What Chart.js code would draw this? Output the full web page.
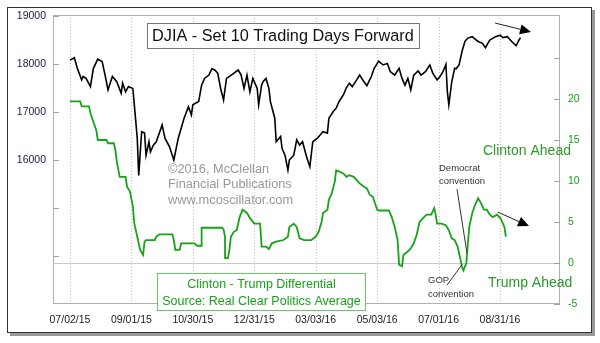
<!DOCTYPE html>
<html>
<head>
<meta charset="utf-8">
<style>
  html, body { margin: 0; padding: 0; background: #fff; }
  #wrap { width: 600px; height: 343px; }
</style>
<script src="https://cdn.jsdelivr.net/npm/chart.js@4.4.0/dist/chart.umd.min.js"></script>
</head>
<body>
<div id="wrap"><canvas id="djiaChart" width="600" height="343"></canvas></div>
<script>
// trading day index (0 = 07/02/15) and DJIA close, already shifted 10 days forward
const djiaDay = [0, 3, 5, 8, 9, 11, 14, 16, 19, 22, 24, 26, 29, 32, 35, 36, 38, 40, 43, 44,
    46, 47, 49, 51, 52, 54, 55, 57, 59, 63, 65, 68, 71, 74, 78, 81, 83, 84, 88, 90,
    92, 95, 97, 99, 101, 103, 105, 107, 111, 115, 117, 119, 121, 123, 125, 128, 129, 131, 132, 134,
    136, 137, 140, 141, 144, 145, 147, 149, 150, 153, 155, 157, 159, 162, 164, 166, 169, 171, 173, 176,
    177, 180, 182, 184, 187, 189, 191, 193, 196, 198, 201, 203, 206, 208, 211, 214, 217, 219, 222, 225,
    227, 229, 231, 233, 235, 238, 240, 243, 246, 248, 251, 253, 255, 257, 258, 259, 261, 263, 264, 266,
    268, 270, 272, 275, 277, 279, 282, 284, 287, 291, 294, 296, 299, 302, 305, 307, 308]
const djiaClose = [18080, 18130, 17910, 17670, 17740, 17700, 17530, 17910, 18100, 18050, 17770, 17460, 17740, 17630, 17390, 17600, 17420, 17530, 17490, 17150,
    16450, 15680, 16590, 16560, 16100, 16380, 16170, 16310, 16380, 16730, 16450, 16280, 16000, 16450, 16870, 17110, 16940, 17150, 17220, 17560,
    17700, 17770, 17900, 17875, 17810, 17490, 17250, 17700, 17785, 17875, 17770, 17490, 17770, 17420, 17700, 17490, 17150, 17560, 17630, 17700,
    17490, 17220, 16870, 16380, 16490, 16240, 16100, 15790, 16000, 16100, 16420, 16310, 16380, 16040, 15860, 16380, 16450, 16520, 16590, 16560,
    16870, 17010, 17080, 17220, 17360, 17510, 17600, 17530, 17670, 17770, 17630, 17550, 17740, 17910, 18060, 17980, 18010, 17840, 17770, 17910,
    17700, 17560, 17700, 17460, 17770, 17855, 17770, 17840, 17980, 17810, 17670, 17740, 17840, 17990, 17420, 17150, 17630, 17910, 17900, 17980,
    18260, 18470, 18540, 18570, 18520, 18470, 18430, 18340, 18500, 18570, 18600, 18550, 18570, 18470, 18380, 18500, 18550]

// Clinton minus Trump, RCP average (points)
const spreadDay = [0, 7, 8, 13, 14, 16, 18, 19, 25, 26, 30, 31, 32, 34, 38, 39, 41, 43, 44, 46,
    48, 50, 51, 52, 58, 59, 61, 70, 71, 72, 75, 76, 85, 87, 90, 90, 104, 105, 106, 106,
    108, 109, 110, 112, 114, 116, 118, 121, 123, 126, 130, 131, 134, 136, 138, 141, 146, 149, 150, 153,
    155, 157, 160, 165, 168, 170, 172, 173, 176, 177, 179, 181, 182, 185, 187, 189, 191, 194, 196, 198,
    201, 203, 205, 207, 210, 211, 218, 220, 222, 224, 225, 227, 228, 231, 233, 235, 237, 239, 242, 244,
    247, 249, 250, 251, 254, 257, 259, 261, 263, 265, 267, 268, 269, 271, 272, 273, 275, 277, 279, 281,
    283, 285, 287, 289, 292, 294, 295, 297, 298]
const spreadValue = [19.7, 19.7, 19.1, 19.1, 18.3, 17.2, 16.2, 15.0, 15.0, 14.6, 14.6, 13.8, 12.4, 10.5, 10.5, 9.3, 8.7, 6.9, 4.8, 3.2,
    1.6, 1.0, 2.6, 2.8, 2.8, 3.2, 3.5, 3.5, 2.8, 1.6, 1.6, 2.4, 2.4, 2.1, 2.1, 4.3, 4.3, 4.1, 3.2, 0.6,
    0.6, 1.6, 3.2, 3.8, 4.0, 5.6, 6.5, 6.1, 5.5, 4.8, 4.8, 2.0, 2.0, 1.7, 2.4, 2.6, 2.8, 3.2, 4.4, 4.8,
    4.4, 3.0, 2.8, 2.8, 3.2, 3.8, 5.0, 6.1, 6.5, 7.7, 8.5, 9.9, 11.3, 11.1, 10.9, 10.5, 10.7, 10.5, 10.1, 9.7,
    9.3, 9.1, 8.3, 8.1, 6.5, 6.4, 6.4, 5.6, 4.4, 2.8, -0.2, -0.4, 1.0, 1.4, 1.8, 2.4, 3.4, 5.0, 5.6, 5.9,
    5.9, 6.7, 5.9, 4.8, 4.8, 4.6, 4.0, 3.0, 2.8, 2.0, 0.4, -0.5, -0.9, 0.0, 2.4, 4.4, 6.1, 7.1, 7.9, 7.3,
    6.5, 6.5, 5.9, 5.6, 5.9, 5.5, 5.2, 4.4, 3.2]

const tickDay = [0, 42, 84, 126, 168, 210, 252, 294]
const tickLabel = ['07/02/15', '09/01/15', '10/30/15', '12/31/15', '03/03/16', '05/03/16', '07/01/16', '08/31/16']
const djiaTicks = [14000, 15000, 16000, 17000, 18000, 19000]
const spreadTicks = [-5, 0, 5, 10, 15, 20, 25]

const FONT = '"Liberation Sans", Arial, sans-serif'
const GREEN = '#17a317'

const decor = {
    id: 'decor',
    beforeDraw(chart) {
        const ctx = chart.ctx
        ctx.save()
        ctx.fillStyle = '#fff'
        ctx.fillRect(0, 0, chart.width, chart.height)
        // drop shadow + outer frame
        ctx.fillStyle = '#9a9a9a'
        ctx.fillRect(10, 333, 585, 3)
        ctx.fillRect(592, 10, 3, 326)
        ctx.strokeStyle = '#333'
        ctx.lineWidth = 1
        ctx.strokeRect(7.5, 7.5, 584, 325)
        ctx.restore()
    },
    beforeDatasetsDraw(chart) {
        const { ctx, chartArea: a, scales } = chart
        ctx.save()
        ctx.lineWidth = 1
        // dotted verticals at the date ticks
        ctx.strokeStyle = '#c4c4c4'
        ctx.setLineDash([1, 2])
        tickDay.forEach(d => {
            const px = Math.round(scales.x.getPixelForValue(d)) + 0.5
            ctx.beginPath()
            ctx.moveTo(px, a.top)
            ctx.lineTo(px, a.bottom)
            ctx.stroke()
        })
        ctx.setLineDash([])
        // zero line of the spread
        const zy = Math.round(scales.y1.getPixelForValue(0)) + 0.5
        ctx.strokeStyle = '#c8c8c8'
        ctx.beginPath()
        ctx.moveTo(a.left, zy)
        ctx.lineTo(a.right, zy)
        ctx.stroke()
        // plot border
        ctx.strokeStyle = '#b0b0b0'
        ctx.strokeRect(a.left + 0.5, a.top + 0.5, a.width - 1, a.height - 1)
        // inward tick marks
        ctx.strokeStyle = '#a0a0a0'
        djiaTicks.forEach(v => {
            const py = Math.round(scales.y.getPixelForValue(v)) + 0.5
            ctx.beginPath()
            ctx.moveTo(a.left, py)
            ctx.lineTo(a.left + 6, py)
            ctx.stroke()
        })
        spreadTicks.forEach(v => {
            const py = Math.round(scales.y1.getPixelForValue(v)) + 0.5
            ctx.beginPath()
            ctx.moveTo(a.right - 6, py)
            ctx.lineTo(a.right, py)
            ctx.stroke()
        })
        ctx.restore()
    },
    afterDatasetsDraw(chart) {
        const { ctx, scales } = chart
        const X = v => scales.x.getPixelForValue(v)
        const Y = v => scales.y.getPixelForValue(v)
        const Y1 = v => scales.y1.getPixelForValue(v)
        ctx.save()

        // title box
        ctx.fillStyle = '#fff'
        ctx.fillRect(147, 23, 272, 25)
        ctx.strokeStyle = '#777'
        ctx.lineWidth = 1
        ctx.strokeRect(147.5, 23.5, 272, 25)
        ctx.fillStyle = '#111'
        ctx.font = '16.3px ' + FONT
        ctx.textBaseline = 'middle'
        ctx.textAlign = 'left'
        ctx.fillText('DJIA - Set 10 Trading Days Forward', 152, 36.5)

        // copyright
        ctx.fillStyle = '#999'
        ctx.font = '12.8px ' + FONT
        ctx.fillText('©2016, McClellan', 168, 169)
        ctx.fillText('Financial Publications', 168, 184.5)
        ctx.fillText('www.mcoscillator.com', 168, 200)

        // legend box
        ctx.fillStyle = '#fff'
        ctx.fillRect(157, 273, 208, 37)
        ctx.strokeStyle = '#66c866'
        ctx.strokeRect(157.5, 273.5, 208, 37)
        ctx.fillStyle = GREEN
        ctx.font = '12.5px ' + FONT
        ctx.textAlign = 'center'
        ctx.fillText('Clinton - Trump Differential', 261.5, 285)
        ctx.fillText('Source: Real Clear Politics Average', 261.5, 302)

        // ahead labels
        ctx.textAlign = 'left'
        ctx.font = '14px ' + FONT
        ctx.fillStyle = '#2a9a2a'
        ctx.fillText('Clinton Ahead', 483, 151)
        ctx.fillText('Trump Ahead', 488, 283)

        // convention notes
        ctx.fillStyle = '#333'
        ctx.font = '9.5px ' + FONT
        ctx.fillText('Democrat', 439, 168)
        ctx.fillText('convention', 439, 181)
        ctx.fillText('GOP', 428, 280)
        ctx.fillText('convention', 428, 294)

        ctx.strokeStyle = '#333'
        ctx.lineWidth = 1
        ctx.beginPath()
        ctx.moveTo(X(264.6), Y1(9.0))
        ctx.lineTo(X(271.4), Y1(1.2))
        ctx.moveTo(X(257.8), Y1(-2.7))
        ctx.lineTo(X(268), Y1(-0.2))
        ctx.stroke()

        // trend arrows
        const arrow = (x0, y0, x1, y1) => {
            const ang = Math.atan2(y1 - y0, x1 - x0)
            const len = 11, half = 5
            const bx = x1 - len * Math.cos(ang), by = y1 - len * Math.sin(ang)
            ctx.strokeStyle = '#222'
            ctx.lineWidth = 1
            ctx.beginPath()
            ctx.moveTo(x0, y0)
            ctx.lineTo(bx, by)
            ctx.stroke()
            ctx.fillStyle = '#000'
            ctx.beginPath()
            ctx.moveTo(x1, y1)
            ctx.lineTo(bx + half * Math.sin(ang), by - half * Math.cos(ang))
            ctx.lineTo(bx - half * Math.sin(ang), by + half * Math.cos(ang))
            ctx.closePath()
            ctx.fill()
        }
        arrow(X(290.6), Y(18854), X(315.2), Y(18667))
        arrow(X(292.6), Y1(6.2), X(313.8), Y1(4.5))

        ctx.restore()
    }
}

const ctx = document.getElementById('djiaChart').getContext('2d')
const djiaChart = new Chart(ctx, {
    type: 'line',
    data: {
        datasets: [{
            label: 'DJIA',
            data: djiaDay.map((d, i) => ({ x: d, y: djiaClose[i] })),
            yAxisID: 'y',
            borderColor: '#000',
            borderWidth: 1.6,
            pointRadius: 0,
            tension: 0
        }, {
            label: 'Clinton - Trump',
            data: spreadDay.map((d, i) => ({ x: d, y: spreadValue[i] })),
            yAxisID: 'y1',
            borderColor: GREEN,
            borderWidth: 1.8,
            pointRadius: 0,
            tension: 0
        }]
    },
    options: {
        responsive: false,
        animation: false,
        devicePixelRatio: 1,
        layout: { padding: { top: 15, left: 0, right: 0, bottom: 0 } },
        plugins: { legend: { display: false }, tooltip: { enabled: false } },
        scales: {
            x: {
                type: 'linear',
                min: -11.6,
                max: 335,
                afterBuildTicks: s => { s.ticks = tickDay.map(v => ({ value: v })) },
                afterFit: s => { s.height = 39 },
                grid: { display: false, drawTicks: false, tickLength: 0 },
                border: { display: false },
                ticks: {
                    autoSkip: false,
                    maxRotation: 0,
                    padding: 10,
                    color: '#1a1a1a',
                    font: { family: FONT, size: 10.5 },
                    callback: v => tickLabel[tickDay.indexOf(v)]
                }
            },
            y: {
                position: 'left',
                min: 13000,
                max: 19021,
                afterBuildTicks: s => { s.ticks = djiaTicks.map(v => ({ value: v })) },
                afterFit: s => { s.width = 53 },
                grid: { display: false, drawTicks: false, tickLength: 0 },
                border: { display: false },
                ticks: {
                    padding: 7,
                    color: '#22224a',
                    font: { family: FONT, size: 10.5 },
                    callback: v => v >= 16000 ? String(v) : ''
                }
            },
            y1: {
                position: 'right',
                min: -5,
                max: 30.24,
                afterBuildTicks: s => { s.ticks = spreadTicks.map(v => ({ value: v })) },
                afterFit: s => { s.width = 40 },
                grid: { display: false, drawTicks: false, tickLength: 0 },
                border: { display: false },
                ticks: {
                    padding: 8,
                    color: GREEN,
                    font: { family: FONT, size: 10.5 },
                    callback: v => v <= 20 ? String(v) : ''
                }
            }
        }
    },
    plugins: [decor]
})
</script>
</body>
</html>
